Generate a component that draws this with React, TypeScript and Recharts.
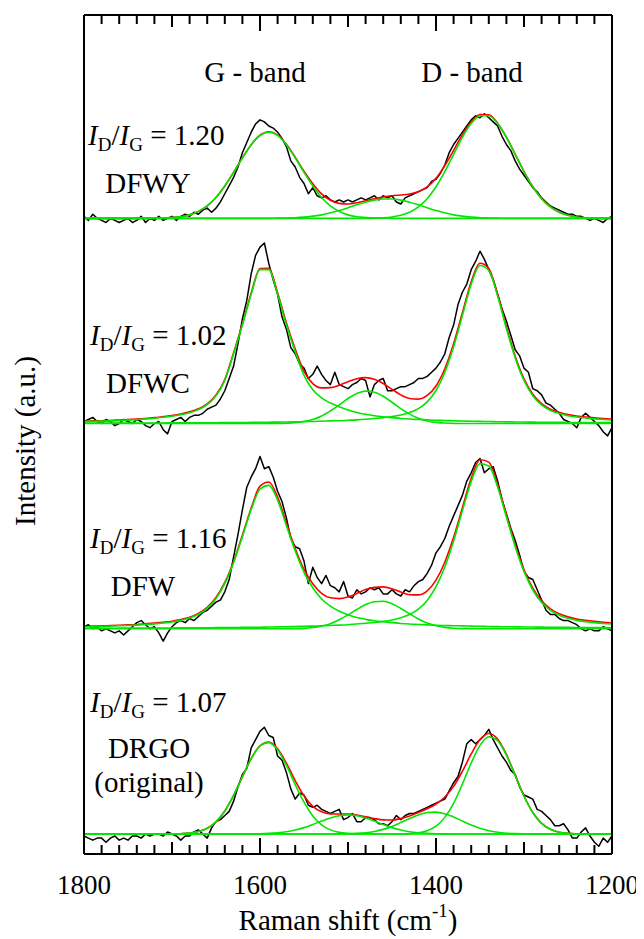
import React from 'react';
import { ComposedChart, Line, XAxis, YAxis, Customized } from 'recharts';

const FONT = '"Times New Roman", Tinos, "Liberation Serif", "DejaVu Serif", serif';
const BLACK = '#000000';
const RED = '#ff0000';
const GREEN = '#00e600';
const textStyle = { fontFamily: FONT, fontSize: 29, fill: BLACK };
const tickStyle = { fontFamily: FONT, fontSize: 27, fill: BLACK };

// Raman shift of the measured points (cm-1)
const rawGrid = [
  1800, 1795, 1790, 1785, 1780, 1775, 1770, 1765, 1760, 1755,
  1750, 1745, 1740, 1735, 1730, 1725, 1720, 1715, 1710, 1705,
  1700, 1695, 1690, 1685, 1680, 1675, 1670, 1665, 1660, 1655,
  1650, 1645, 1640, 1635, 1630, 1625, 1620, 1615, 1610, 1605,
  1600, 1595, 1590, 1585, 1580, 1575, 1570, 1565, 1560, 1555,
  1550, 1545, 1540, 1535, 1530, 1525, 1520, 1515, 1510, 1505,
  1500, 1495, 1490, 1485, 1480, 1475, 1470, 1465, 1460, 1455,
  1450, 1445, 1440, 1435, 1430, 1425, 1420, 1415, 1410, 1405,
  1400, 1395, 1390, 1385, 1380, 1375, 1370, 1365, 1360, 1355,
  1350, 1345, 1340, 1335, 1330, 1325, 1320, 1315, 1310, 1305,
  1300, 1295, 1290, 1285, 1280, 1275, 1270, 1265, 1260, 1255,
  1250, 1245, 1240, 1235, 1230, 1225, 1220, 1215, 1210, 1205,
  1200,
];

// Raman shift of the fitted curves (cm-1)
const fitGrid = [
  1800, 1790, 1780, 1770, 1760, 1750, 1740, 1730, 1720, 1710,
  1700, 1690, 1680, 1670, 1660, 1650, 1640, 1630, 1620, 1610,
  1600, 1590, 1580, 1570, 1560, 1550, 1540, 1530, 1520, 1510,
  1500, 1490, 1480, 1470, 1460, 1450, 1440, 1430, 1420, 1410,
  1400, 1390, 1380, 1370, 1360, 1350, 1340, 1330, 1320, 1310,
  1300, 1290, 1280, 1270, 1260, 1250, 1240, 1230, 1220, 1210,
  1200,
];

const minorTicks = [
  1800, 1780, 1760, 1740, 1720, 1700, 1680, 1660, 1640, 1620, 1600,
  1580, 1560, 1540, 1520, 1500, 1480, 1460, 1440, 1420, 1400,
  1380, 1360, 1340, 1320, 1300, 1280, 1260, 1240, 1220, 1200,
];
const tickLabels = [1800, 1600, 1400, 1200];

const samples = ['DFWY', 'DFWC', 'DFW', 'DRGO'];
const ratios = ['1.20', '1.02', '1.16', '1.07'];
const offsets = [300, 200, 100, 0];

// ---- DFWY ----
const dfwyRaw = [
  1, -1, 2, 0, -1, -2, 0, -1, -2, -1,
  0, -2, -1, 1, -2, 0, -1, 1, -1, 0,
  1, -1, 1, 2, 1, 3, 2, 4, 5, 3,
  5, 8, 12, 16, 20, 25, 32, 37, 42, 46,
  48, 47, 45, 44, 42, 39, 35, 28, 25, 20,
  17, 12, 15, 11, 10, 11, 9, 8, 9, 8,
  9, 8, 9, 10, 9, 10, 11, 9, 11, 10,
  11, 8, 7, 10, 11, 12, 13, 14, 15, 18,
  19, 22, 26, 32, 36, 39, 42, 45, 48, 50,
  49, 51, 49, 47, 45, 40, 36, 33, 28, 24,
  21, 18, 15, 13, 10, 8, 6, 5, 4, 3,
  2, 2, 1, 1, 0, -1, 0, -1, -2, 0,
  1,
];
const dfwyFit = [
  0, 0, 0, 0, 0, 0, 0, 0, 0.1, 0.15,
  0.4, 0.8, 1.7, 3.4, 6.1, 10.2, 15.8, 22.4, 29.5, 35.9,
  40.5, 42.2, 40.6, 36.1, 29.8, 23.0, 16.9, 11.9, 8.8, 7.3,
  7.0, 7.6, 8.6, 9.6, 10.4, 11.0, 11.4, 11.9, 13.0, 15.3,
  19.5, 25.7, 33.1, 40.8, 47.0, 50.6, 50.5, 46.4, 39.6, 31.2,
  22.8, 15.4, 9.6, 5.6, 3.0, 1.5, 0.7, 0.3, 0.1, 0,
  0,
];
const dfwyG = [
  0, 0, 0, 0, 0, 0, 0, 0, 0.1, 0.15,
  0.4, 0.8, 1.7, 3.4, 6.1, 10.2, 15.8, 22.4, 29.5, 35.9,
  40.4, 42, 40.4, 35.9, 29.5, 22.4, 15.8, 10.2, 6.1, 3.4,
  1.7, 0.8, 0.4, 0.15, 0.1, 0, 0, 0, 0, 0,
  0, 0, 0, 0, 0, 0, 0, 0, 0, 0,
  0, 0, 0, 0, 0, 0, 0, 0, 0, 0,
  0,
];
const dfwyM = [
  0, 0, 0, 0, 0, 0, 0, 0, 0, 0,
  0, 0, 0, 0, 0, 0, 0, 0, 0, 0,
  0, 0, 0.1, 0.2, 0.3, 0.6, 1.1, 1.7, 2.7, 3.8,
  5.2, 6.6, 7.9, 8.9, 9.4, 9.4, 8.9, 7.9, 6.6, 5.2,
  3.8, 2.7, 1.7, 1.1, 0.6, 0.3, 0.2, 0.1, 0, 0,
  0, 0, 0, 0, 0, 0, 0, 0, 0, 0,
  0,
];
const dfwyD = [
  0, 0, 0, 0, 0, 0, 0, 0, 0, 0,
  0, 0, 0, 0, 0, 0, 0, 0, 0, 0,
  0, 0, 0, 0, 0, 0, 0, 0, 0, 0,
  0, 0, 0, 0.1, 0.3, 0.7, 1.5, 3.0, 5.6, 9.6,
  15.4, 22.8, 31.2, 39.5, 46.2, 50.0, 50.0, 46.2, 39.5, 31.2,
  22.8, 15.4, 9.6, 5.6, 3.0, 1.5, 0.7, 0.3, 0.1, 0,
  0,
];

// ---- DFWC ----
const dfwcRaw = [
  1, 2, 3, 1, 0, 2, 1, -1, 0, 2,
  1, 0, 2, 1, -1, -2, 0, 1, -3, -5,
  1, 2, 3, 1, 3, 4, 4, 5, 7, 8,
  9, 12, 16, 22, 28, 39, 51, 60, 73, 82,
  86, 88, 78, 70, 63, 52, 46, 37, 34, 29,
  27, 22, 24, 28, 24, 21, 19, 25, 19, 18,
  17, 19, 20, 22, 21, 13, 19, 21, 22, 16,
  16, 17, 18, 18, 19, 20, 22, 22, 23, 25,
  27, 30, 34, 42, 48, 58, 64, 68, 75, 79,
  84, 80, 75, 70, 63, 56, 50, 43, 36, 33,
  27, 25, 17, 16, 14, 10, 9, 7, 5, 2,
  1, 0, -2, 3, 5, 3, 1, -1, -4, -6,
  -2,
];
const dfwcFit = [
  1.2, 1.3, 1.4, 1.5, 1.75, 2.0, 2.2, 2.5, 2.9, 3.4,
  3.9, 4.65, 5.7, 7.2, 9.6, 13.9, 21.5, 34.5, 48.5, 63.6,
  75.6, 75.7, 63.8, 49.0, 36.3, 25.4, 19.5, 17.4, 17.5, 18.7,
  20.4, 21.8, 22.4, 21.6, 19.5, 16.7, 14.0, 12.2, 11.9, 13.7,
  18.3, 26.7, 38.9, 54.0, 69.1, 78.1, 75.6, 63.1, 47.2, 32.8,
  21.8, 14.3, 9.75, 7.0, 5.5, 4.35, 3.7, 3.2, 2.8, 2.45,
  2.2,
];
const dfwcG = [
  1.0, 1.1, 1.2, 1.3, 1.5, 1.7, 1.9, 2.2, 2.6, 3.1,
  3.6, 4.3, 5.3, 6.8, 9.2, 13.5, 21, 34, 48, 63,
  75, 75, 63, 48, 35, 23.5, 16.5, 12.5, 10, 8.2,
  6.6, 5.4, 4.5, 3.8, 3.3, 2.9, 2.5, 2.2, 2.0, 1.8,
  1.6, 1.5, 1.35, 1.25, 1.15, 1.05, 1.0, 0.9, 0.85, 0.8,
  0.75, 0.7, 0.65, 0.62, 0.58, 0.55, 0.52, 0.5, 0.47, 0.45,
  0.43,
];
const dfwcM = [
  0, 0, 0, 0, 0, 0, 0, 0, 0, 0,
  0, 0, 0, 0, 0, 0, 0, 0, 0, 0,
  0, 0, 0.05, 0.17, 0.4, 1.0, 2.0, 3.7, 6.2, 9.1,
  12.2, 14.6, 15.8, 15.3, 13.3, 10.4, 7.3, 4.6, 2.6, 1.3,
  0.6, 0.25, 0.1, 0, 0, 0, 0, 0, 0, 0,
  0, 0, 0, 0, 0, 0, 0, 0, 0, 0,
  0,
];
const dfwcD = [
  0.21, 0.22, 0.23, 0.24, 0.25, 0.26, 0.27, 0.28, 0.3, 0.31,
  0.33, 0.35, 0.37, 0.39, 0.41, 0.43, 0.46, 0.49, 0.53, 0.57,
  0.61, 0.66, 0.72, 0.78, 0.86, 0.94, 1.04, 1.15, 1.3, 1.4,
  1.6, 1.8, 2.1, 2.5, 2.9, 3.4, 4.2, 5.4, 7.3, 10.6,
  16.1, 24.9, 37.4, 52.7, 67.9, 77.0, 74.6, 62.2, 46.3, 32.0,
  21.0, 13.6, 9.1, 6.4, 4.9, 3.8, 3.2, 2.7, 2.3, 2.0,
  1.75,
];

// ---- DFW ----
const dfwRaw = [
  1, 2, 0, 1, -1, 0, -1, -2, -1, -3,
  -1, 1, 3, 4, 2, 0, 1, -2, -6, -2,
  1, 3, 4, 3, 5, 4, 6, 8, 9, 11,
  13, 14, 18, 24, 35, 46, 58, 69, 74, 78,
  84, 78, 79, 74, 67, 62, 54, 44, 40, 39,
  33, 22, 30, 25, 22, 26, 21, 20, 18, 23,
  16, 15, 19, 17, 18, 20, 19, 20, 17, 17,
  19, 17, 16, 19, 18, 21, 23, 24, 27, 31,
  37, 40, 44, 50, 55, 60, 65, 72, 76, 81,
  83, 76, 78, 79, 72, 63, 56, 49, 43, 36,
  28, 25, 24, 19, 14, 9, 7, 7, 5, 4,
  4, 3, 2, 0, -1, 0, -1, -1, 1, 0,
  -1,
];
const dfwFit = [
  1.2, 1.3, 1.4, 1.6, 1.75, 1.9, 2.1, 2.45, 2.8, 3.2,
  3.7, 4.5, 5.65, 7.5, 10.4, 15.25, 22.6, 32.8, 45.6, 58.8,
  69.5, 71.5, 64.2, 51.5, 39.1, 28.9, 21.9, 17.25, 15.1, 14.7,
  15.55, 17.2, 19.1, 20.2, 20.4, 19.5, 17.9, 16.6, 16.5, 18.5,
  23.7, 32.4, 44.55, 59.0, 73.3, 82.4, 81.2, 70.4, 55.5, 40.95,
  28.8, 19.75, 13.6, 9.75, 7.3, 5.8, 4.7, 4.1, 3.6, 3.15,
  2.8,
];
const dfwG = [
  0.95, 1.05, 1.15, 1.3, 1.45, 1.6, 1.8, 2.1, 2.4, 2.8,
  3.3, 4.1, 5.2, 7.0, 9.9, 14.7, 22.0, 32.2, 44.9, 58.1,
  68.0, 69.9, 62.7, 50.2, 38, 27.5, 20, 14.5, 11, 8.5,
  6.8, 5.5, 4.6, 3.9, 3.4, 3.0, 2.6, 2.3, 2.1, 1.9,
  1.7, 1.6, 1.5, 1.4, 1.3, 1.2, 1.1, 1.05, 1.0, 0.95,
  0.9, 0.85, 0.8, 0.75, 0.7, 0.67, 0.64, 0.6, 0.58, 0.55,
  0.52,
];
const dfwM = [
  0, 0, 0, 0, 0, 0, 0, 0, 0, 0,
  0, 0, 0, 0, 0, 0, 0, 0, 0, 0,
  0, 0, 0, 0, 0.07, 0.2, 0.6, 1.3, 2.5, 4.4,
  6.75, 9.4, 11.8, 13.2, 13.4, 12.2, 9.9, 7.3, 4.8, 2.8,
  1.5, 0.7, 0.25, 0.1, 0, 0, 0, 0, 0, 0,
  0, 0, 0, 0, 0, 0, 0, 0, 0, 0,
  0,
];
const dfwD = [
  0.25, 0.26, 0.27, 0.28, 0.3, 0.31, 0.33, 0.35, 0.36, 0.38,
  0.41, 0.43, 0.45, 0.48, 0.51, 0.55, 0.58, 0.63, 0.67, 0.72,
  0.78, 0.84, 0.91, 1.0, 1.1, 1.2, 1.3, 1.45, 1.6, 1.8,
  2.0, 2.3, 2.7, 3.1, 3.6, 4.3, 5.4, 7.0, 9.6, 13.8,
  20.5, 30.1, 42.8, 57.5, 71.7, 80.5, 79.3, 69.1, 54.5, 40.0,
  27.9, 18.9, 12.8, 9.0, 6.6, 5.1, 4.1, 3.5, 3.0, 2.6,
  2.3,
];

// ---- DRGO (original) ----
const drgoRaw = [
  -1, -2, -3, -2, -2, -4, -2, -1, -3, -2,
  -3, -1, -1, -2, 0, -1, 0, 0, -1, 1,
  0, -1, -3, -1, -1, 1, 2, 0, -2, 3,
  6, 7, 9, 11, 16, 23, 29, 32, 42, 46,
  50, 52, 48, 47, 38, 36, 30, 22, 17, 20,
  19, 14, 13, 14, 12, 11, 10, 11, 12, 7,
  8, 10, 6, 6, 8, 8, 7, 5, 5, 4,
  6, 9, 7, 9, 10, 10, 11, 12, 13, 14,
  15, 16, 17, 21, 25, 28, 35, 44, 46, 44,
  46, 48, 51, 46, 42, 38, 35, 31, 29, 23,
  19, 18, 17, 12, 11, 9, 7, 4, 4, 5,
  2, -2, -2, 1, 3, -1, -4, -6, -2, -4,
  -1,
];
const drgoFit = [
  0, 0, 0, 0, 0, 0, 0, 0, 0, 0,
  0, 0.14, 0.43, 1.2, 2.8, 5.9, 11.2, 18.8, 27.9, 36.75,
  43.0, 44.8, 41.5, 34.5, 26.05, 18.6, 13.45, 10.8, 9.8, 9.75,
  9.7, 9.26, 8.42, 7.54, 6.9, 6.8, 7.55, 8.8, 10.45, 12.3,
  14.6, 18.05, 23.2, 30.6, 39.0, 46.0, 49.0, 46.3, 38.8, 28.6,
  18.5, 10.5, 5.2, 2.3, 0.88, 0.3, 0.09, 0, 0, 0,
  0,
];
const drgoG = [
  0, 0, 0, 0, 0, 0, 0, 0, 0, 0,
  0, 0.14, 0.43, 1.2, 2.8, 5.9, 11.2, 18.8, 27.9, 36.7,
  42.9, 44.5, 40.9, 33.4, 24.1, 15.5, 8.8, 4.5, 2.0, 0.8,
  0.28, 0.08, 0, 0, 0, 0, 0, 0, 0, 0,
  0, 0, 0, 0, 0, 0, 0, 0, 0, 0,
  0, 0, 0, 0, 0, 0, 0, 0, 0, 0,
  0,
];
const drgoM1 = [
  0, 0, 0, 0, 0, 0, 0, 0, 0, 0,
  0, 0, 0, 0, 0, 0, 0, 0, 0, 0.05,
  0.12, 0.28, 0.58, 1.1, 1.95, 3.1, 4.65, 6.3, 7.8, 8.9,
  9.3, 8.9, 7.8, 6.3, 4.65, 3.1, 1.95, 1.1, 0.58, 0.28,
  0.12, 0.05, 0, 0, 0, 0, 0, 0, 0, 0,
  0, 0, 0, 0, 0, 0, 0, 0, 0, 0,
  0,
];
const drgoM2 = [
  0, 0, 0, 0, 0, 0, 0, 0, 0, 0,
  0, 0, 0, 0, 0, 0, 0, 0, 0, 0,
  0, 0, 0, 0, 0, 0, 0, 0, 0, 0.05,
  0.12, 0.28, 0.62, 1.24, 2.25, 3.7, 5.55, 7.5, 9.3, 10.45,
  10.66, 9.9, 8.3, 6.3, 4.4, 2.8, 1.6, 0.83, 0.39, 0.17,
  0.06, 0, 0, 0, 0, 0, 0, 0, 0, 0,
  0,
];
const drgoD = [
  0, 0, 0, 0, 0, 0, 0, 0, 0, 0,
  0, 0, 0, 0, 0, 0, 0, 0, 0, 0,
  0, 0, 0, 0, 0, 0, 0, 0, 0, 0,
  0, 0, 0, 0, 0, 0, 0.05, 0.19, 0.57, 1.6,
  3.8, 8.1, 14.9, 24.3, 34.6, 43.2, 47.4, 45.5, 38.4, 28.4,
  18.4, 10.5, 5.2, 2.3, 0.88, 0.3, 0.09, 0, 0, 0,
  0,
];

const rawSeries = [
  { key: 'dfwyRaw', values: dfwyRaw, offset: offsets[0] },
  { key: 'dfwcRaw', values: dfwcRaw, offset: offsets[1] },
  { key: 'dfwRaw', values: dfwRaw, offset: offsets[2] },
  { key: 'drgoRaw', values: drgoRaw, offset: offsets[3] },
];

const fitSeries = [
  { key: 'dfwyFit', values: dfwyFit, offset: offsets[0], color: RED },
  { key: 'dfwcFit', values: dfwcFit, offset: offsets[1], color: RED },
  { key: 'dfwFit', values: dfwFit, offset: offsets[2], color: RED },
  { key: 'drgoFit', values: drgoFit, offset: offsets[3], color: RED },
  { key: 'dfwyG', values: dfwyG, offset: offsets[0], color: GREEN },
  { key: 'dfwyM', values: dfwyM, offset: offsets[0], color: GREEN },
  { key: 'dfwyD', values: dfwyD, offset: offsets[0], color: GREEN },
  { key: 'dfwcG', values: dfwcG, offset: offsets[1], color: GREEN },
  { key: 'dfwcM', values: dfwcM, offset: offsets[1], color: GREEN },
  { key: 'dfwcD', values: dfwcD, offset: offsets[1], color: GREEN },
  { key: 'dfwG', values: dfwG, offset: offsets[2], color: GREEN },
  { key: 'dfwM', values: dfwM, offset: offsets[2], color: GREEN },
  { key: 'dfwD', values: dfwD, offset: offsets[2], color: GREEN },
  { key: 'drgoG', values: drgoG, offset: offsets[3], color: GREEN },
  { key: 'drgoM1', values: drgoM1, offset: offsets[3], color: GREEN },
  { key: 'drgoM2', values: drgoM2, offset: offsets[3], color: GREEN },
  { key: 'drgoD', values: drgoD, offset: offsets[3], color: GREEN },
];

// one row per measured point; fitted curves only on every other row
const tableRows = rawGrid.map((wn, i) => {
  const row: Record<string, number> = { wn };
  rawSeries.forEach((s) => {
    row[s.key] = s.values[i] + s.offset;
  });
  const j = fitGrid.indexOf(wn);
  if (j >= 0) {
    fitSeries.forEach((s) => {
      row[s.key] = s.values[j] + s.offset;
    });
  }
  return row;
});

const tickLen = (v: number) => (v % 200 === 0 ? 16 : v % 100 === 0 ? 12 : 9);

const BottomTick = (props: any) => {
  const { x, y, payload } = props;
  const v = payload.value;
  return (
    <g>
      <line x1={x} y1={y} x2={x} y2={y - tickLen(v)} stroke={BLACK} strokeWidth={2} />
      {tickLabels.includes(v) && (
        <text x={x} y={y + 40} textAnchor="middle" style={tickStyle}>
          {v}
        </text>
      )}
    </g>
  );
};

const TopTick = (props: any) => {
  const { x, y, payload } = props;
  return <line x1={x} y1={y} x2={x} y2={y + tickLen(payload.value)} stroke={BLACK} strokeWidth={2} />;
};

const Ratio = ({ x, y, value }: { x: number; y: number; value: string }) => (
  <text x={x} y={y} style={textStyle}>
    <tspan style={{ fontStyle: 'italic' }}>I</tspan>
    <tspan style={{ fontSize: 19 }} dy={6}>D</tspan>
    <tspan dy={-6}>/</tspan>
    <tspan style={{ fontStyle: 'italic' }}>I</tspan>
    <tspan style={{ fontSize: 19 }} dy={6}>G</tspan>
    <tspan dy={-6}>{` = ${value}`}</tspan>
  </text>
);

const ratioPos = [
  { x: 80, y: 137 },
  { x: 82, y: 337 },
  { x: 82, y: 540 },
  { x: 82, y: 704 },
];
const namePos = [
  { x: 140, y: 185 },
  { x: 140, y: 385 },
  { x: 135, y: 588 },
  { x: 141, y: 750 },
];

const Annotations = () => (
  <g>
    <text x={247} y={74} textAnchor="middle" style={textStyle}>
      G - band
    </text>
    <text x={464} y={74} textAnchor="middle" style={textStyle}>
      D - band
    </text>
    {samples.map((name, i) => (
      <g key={name}>
        <Ratio x={ratioPos[i].x} y={ratioPos[i].y} value={ratios[i]} />
        <text x={namePos[i].x} y={namePos[i].y} textAnchor="middle" style={textStyle}>
          {name}
        </text>
      </g>
    ))}
    <text x={141} y={784} textAnchor="middle" style={textStyle}>
      (original)
    </text>
    <text x={27} y={433} transform="rotate(-90, 27, 433)" textAnchor="middle" style={textStyle}>
      Intensity (a.u.)
    </text>
    <text x={340} y={922} textAnchor="middle" style={textStyle}>
      Raman shift (cm
      <tspan style={{ fontSize: 19 }} dy={-13}>-1</tspan>
      <tspan dy={13}>)</tspan>
    </text>
  </g>
);

const axisLine = { stroke: BLACK, strokeWidth: 2 };

export default function App() {
  return (
    <div style={{ fontFamily: FONT }}>
      <ComposedChart width={636} height={931} data={tableRows} margin={{ top: 0, right: 0, bottom: 0, left: 0 }}>
        <XAxis
          dataKey="wn"
          type="number"
          domain={[1200, 1800]}
          reversed
          ticks={minorTicks}
          interval={0}
          tick={<BottomTick />}
          tickLine={false}
          tickSize={0}
          tickMargin={0}
          height={85}
          axisLine={axisLine}
        />
        <XAxis
          xAxisId="top"
          orientation="top"
          dataKey="wn"
          type="number"
          domain={[1200, 1800]}
          reversed
          ticks={minorTicks}
          interval={0}
          tick={<TopTick />}
          tickLine={false}
          tickSize={0}
          tickMargin={0}
          height={7}
          axisLine={axisLine}
        />
        <YAxis domain={[-9.75, 399.1]} width={76} tick={false} tickLine={false} axisLine={axisLine} />
        <YAxis
          yAxisId="right"
          orientation="right"
          domain={[-9.75, 399.1]}
          width={32}
          tick={false}
          tickLine={false}
          axisLine={axisLine}
        />
        {rawSeries.map((s) => (
          <Line
            key={s.key}
            dataKey={s.key}
            type="linear"
            stroke={BLACK}
            strokeWidth={1.5}
            strokeLinejoin="round"
            dot={false}
            activeDot={false}
            connectNulls
            isAnimationActive={false}
          />
        ))}
        {fitSeries.map((s) => (
          <Line
            key={s.key}
            dataKey={s.key}
            type="monotone"
            stroke={s.color}
            strokeWidth={1.6}
            dot={false}
            activeDot={false}
            connectNulls
            isAnimationActive={false}
          />
        ))}
        <Customized component={<Annotations />} />
      </ComposedChart>
    </div>
  );
}
